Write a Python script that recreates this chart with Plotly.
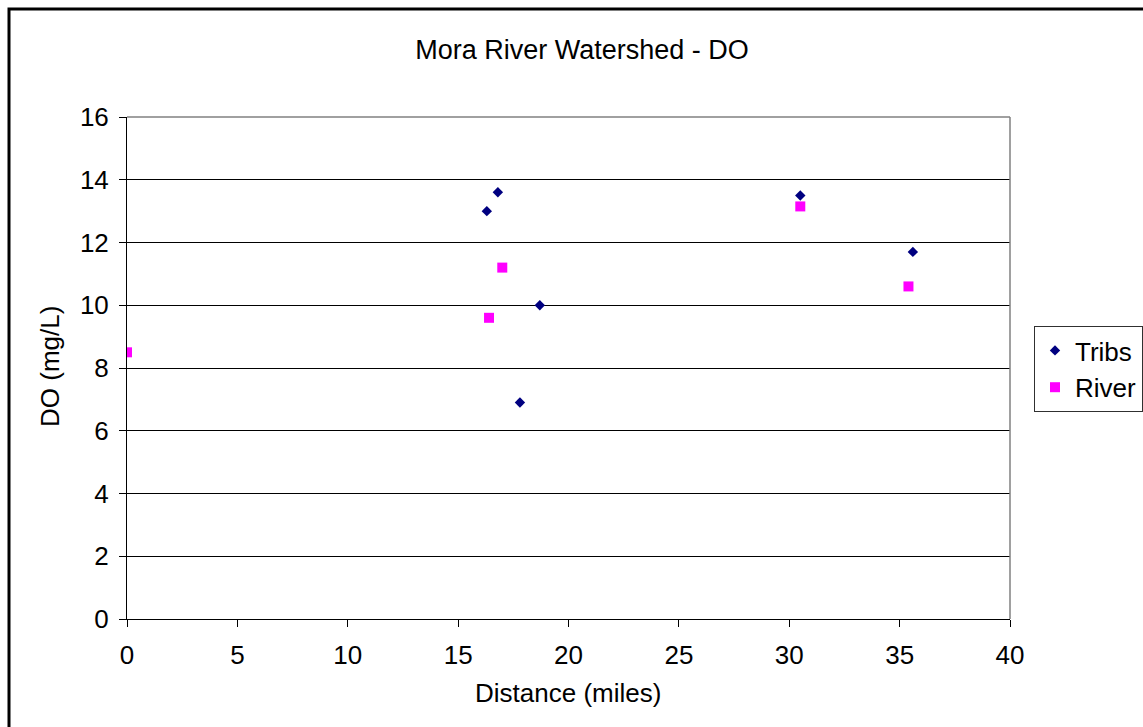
import plotly.graph_objects as go

tribs_x = [16.3, 16.8, 18.7, 17.8, 30.5, 35.6]
tribs_y = [13.0, 13.6, 10.0, 6.9, 13.5, 11.7]
river_x = [0.0, 16.4, 17.0, 30.5, 35.4]
river_y = [8.5, 9.6, 11.2, 13.15, 10.6]

W, H = 1143, 727
ml, mt = 127, 117
pw, ph = 883, 502
mr, mb = W - ml - pw, H - mt - ph

font = "Liberation Sans, Arial, sans-serif"
FS = 26

fig = go.Figure()
fig.add_trace(go.Scatter(x=tribs_x, y=tribs_y, mode="markers", name="Tribs",
                         marker=dict(symbol="diamond", color="#000080", size=8,
                                     line=dict(width=0))))
fig.add_trace(go.Scatter(x=river_x, y=river_y, mode="markers", name="River",
                         marker=dict(symbol="square", color="#FF00FF", size=10,
                                     line=dict(width=0))))

# outer chart frame (clipped on right/bottom like reference)
fx0 = (9 - ml) / pw
fy1 = (ph + mt - 9) / ph
fig.add_shape(type="rect", xref="paper", yref="paper", x0=fx0, x1=2, y0=-2, y1=fy1,
              line=dict(color="black", width=3), layer="below")
# plot area border (top and right, gray)
fig.add_shape(type="line", xref="paper", yref="paper", x0=0, x1=1, y0=1, y1=1,
              line=dict(color="#808080", width=1.5), layer="above")
fig.add_shape(type="line", xref="paper", yref="paper", x0=1, x1=1, y0=0, y1=1,
              line=dict(color="#808080", width=1.5), layer="above")

# axis titles
fig.add_annotation(text="Distance (miles)", xref="paper", yref="paper",
                   x=(568 - ml) / pw, y=-(693 - 619) / ph,
                   xanchor="center", yanchor="middle", showarrow=False,
                   font=dict(size=FS, family=font, color="black"))
fig.add_annotation(text="DO (mg/L)", xref="paper", yref="paper",
                   x=-(ml - 50) / pw, y=(619 - 367) / ph, textangle=-90,
                   xanchor="center", yanchor="middle", showarrow=False,
                   font=dict(size=FS, family=font, color="black"))

fig.update_layout(
    width=W, height=H,
    margin=dict(l=ml, r=mr, t=mt, b=mb, autoexpand=False),
    paper_bgcolor="white", plot_bgcolor="white",
    font=dict(family=font, size=FS, color="black"),
    title=dict(text="Mora River Watershed - DO", x=(582 - ml) / pw, xref="paper",
               xanchor="center", y=1 - 50 / H, yanchor="middle",
               font=dict(size=27, family=font, color="black")),
    showlegend=True,
    legend=dict(x=(1034 - ml) / pw, xanchor="left", y=(619 - 326) / ph, yanchor="top",
                bordercolor="#303030", borderwidth=1, bgcolor="white",
                font=dict(size=FS, family=font, color="black"),
                tracegroupgap=0),
    xaxis=dict(range=[0, 40], dtick=5, tick0=0, showgrid=False, zeroline=False,
               showline=True, linecolor="black", linewidth=1,
               ticks="outside", ticklen=7, tickcolor="black", ticklabelstandoff=6,
               tickfont=dict(size=FS)),
    yaxis=dict(range=[0, 16], dtick=2, tick0=0, showgrid=True, gridcolor="black",
               gridwidth=1, zeroline=False,
               showline=True, linecolor="black", linewidth=1,
               ticks="outside", ticklen=7, tickcolor="black", ticklabelstandoff=5,
               tickfont=dict(size=FS)),
)

fig.write_html("out.html", config={"displayModeBar": False},
               post_script="document.body.style.margin='0';document.body.style.overflow='hidden';")
